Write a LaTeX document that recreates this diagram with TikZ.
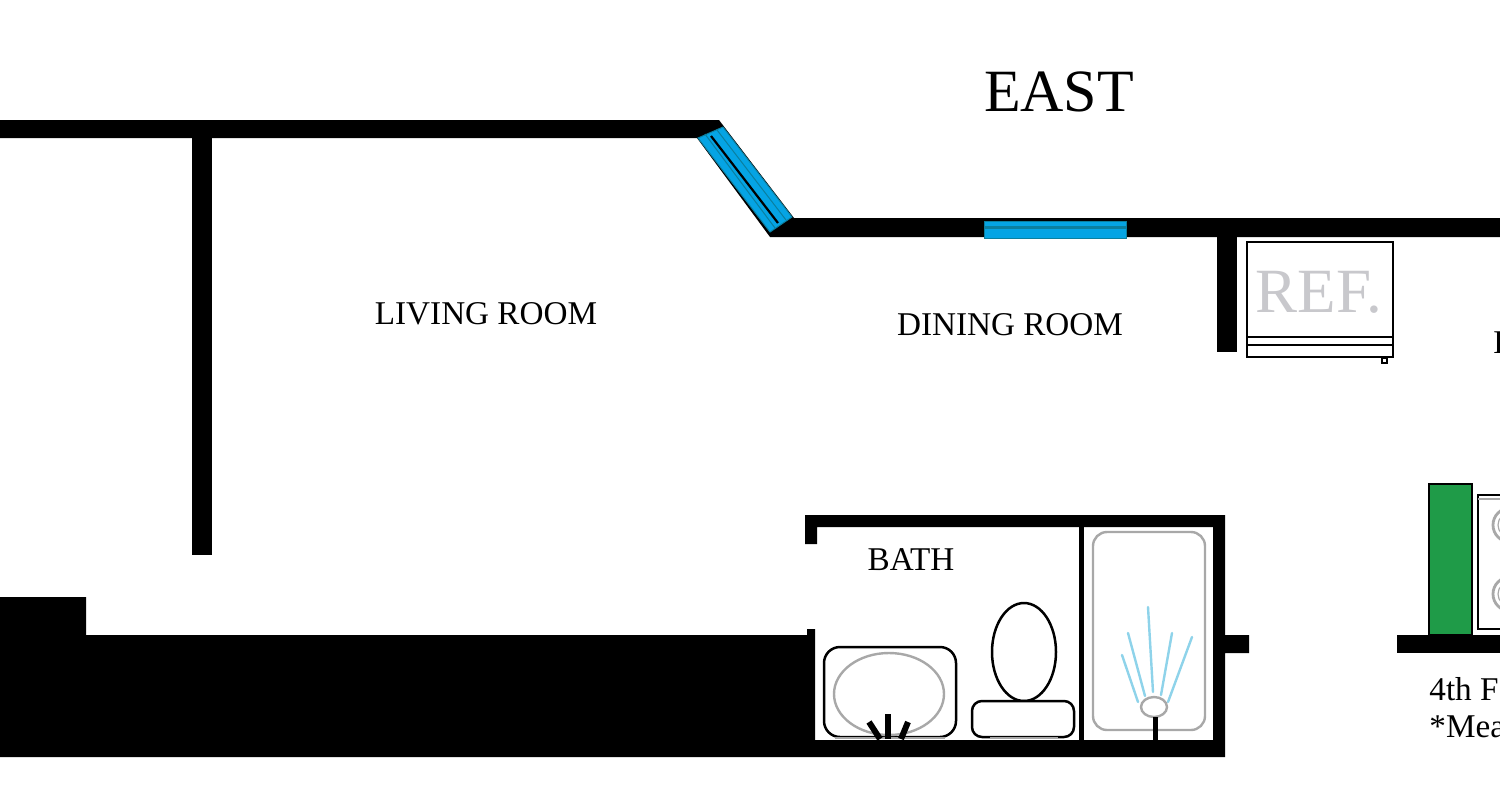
\documentclass[tikz,border=0pt]{standalone}
\usepackage{fontspec}
\setmainfont{Liberation Serif}
\definecolor{winblue}{HTML}{05A4E4}
\definecolor{winteal}{HTML}{0B7F9F}
\definecolor{spray}{HTML}{8ED3EA}
\definecolor{fixgray}{HTML}{A8A8A8}
\definecolor{reftext}{HTML}{C8C8CC}
\definecolor{cabgreen}{HTML}{1F9B48}
\tikzset{
  wall/.style={fill=black,draw=none},
  fixture/.style={draw=black,line width=1.25pt,fill=white},
  grayfix/.style={draw=fixgray,line width=1.2pt},
  spraylin/.style={draw=spray,line width=1.2pt,line cap=round},
  faucet/.style={draw=black,line width=3pt},
  label/.style={inner sep=0pt,font=\fontsize{16.6}{20}\selectfont}
}
\begin{document}
\begin{tikzpicture}[x=0.5pt,y=-0.5pt]
\useasboundingbox (0,0) rectangle (1500,800);
\clip (0,0) rectangle (1500,800);
\fill[white] (0,0) rectangle (1500,800);
% exterior east wall
\fill[wall] (0,120) -- (719,120) -- (794,218) -- (1500,218) -- (1500,237) -- (770,237) -- (697,138) -- (0,138) -- cycle;
% partitions
\fill[wall] (192,120) rectangle (212,555);
\fill[wall] (1217,230) rectangle (1237,352);
% south mass
\fill[wall] (0,597) -- (86,597) -- (86,635) -- (807,635) -- (807,629) -- (815,629) -- (815,740) -- (1213,740) -- (1213,527) -- (817,527) -- (817,544) -- (805,544) -- (805,515) -- (1225,515) -- (1225,635) -- (1249,635) -- (1249,653) -- (1225,653) -- (1225,757) -- (0,757) -- cycle;
\fill[wall] (1079,527) rectangle (1084,740);
\fill[wall] (1397,635) rectangle (1500,653);
% angled window
\fill[winblue,draw=winteal,line width=0.5pt] (698,138) -- (723,127) -- (792,217) -- (770,232) -- cycle;
\draw[winteal,line width=0.5pt] (705,134) -- (775,228);
\draw[winteal,line width=0.5pt] (717,130) -- (786,220);
\draw[black,line width=1.1pt] (711,136) -- (778,223);
% straight window
\fill[winblue] (984,221) rectangle (1126,238);
\draw[winteal,line width=1.2pt] (984,227.5) -- (1126,227.5);
\draw[winteal,line width=0.4pt] (984,221) rectangle (1126,238);
% refrigerator
\draw[fixture] (1247,242) rectangle (1393,357);
\draw[black,line width=1.25pt] (1247,337) -- (1393,337) (1247,345) -- (1393,345);
\draw[fixture,line width=1pt] (1381.5,357.5) rectangle (1387,362.5);
\node[inner sep=0pt,text=reftext,font=\fontsize{31.5}{34}\selectfont] (ref) at (1319,292) {REF.};
% bath fixtures
\draw[fixture] (824,647) [rounded corners=8pt] rectangle (956,737);
\draw[grayfix,fill=white] (889,694) ellipse [x radius=55,y radius=41];
\draw[fixgray,line width=1pt] (835,738) -- (945,738);
\draw[faucet] (888,714) -- (888,739);
\draw[faucet] (869,722) -- (880,739);
\draw[faucet] (908,722) -- (901,739);
\draw[fixture] (1024,652) ellipse [x radius=32,y radius=49];
\draw[fixture] (972,701) [rounded corners=5pt] rectangle (1074,737);
\draw[fixgray,line width=1pt] (990,738) -- (1058,738);
% shower
\draw[grayfix] (1093,532) [rounded corners=7pt] rectangle (1205,730);
\draw[spraylin] (1138,702) -- (1122,655);
\draw[spraylin] (1145,696) -- (1128,633);
\draw[spraylin] (1153,692) -- (1148,607);
\draw[spraylin] (1161,695) -- (1172,633);
\draw[spraylin] (1168,702) -- (1192,637);
\draw[draw=fixgray,fill=white,line width=1.2pt] (1154,707) ellipse [x radius=13,y radius=10];
\fill[wall] (1153,717) rectangle (1157.5,740);
% cabinet and stove
\draw[fill=cabgreen,draw=black,line width=1.25pt] (1429,484) rectangle (1472,635);
\draw[fixture] (1478,495) rectangle (1510,629);
\draw[fixgray,line width=0.6pt] (1478,499) -- (1510,499);
\draw[fixgray,line width=1.4pt,fill=white] (1510,525) circle (17);
\draw[fixgray,line width=1.4pt,fill=white] (1510,594) circle (17);
\draw[fixgray,line width=0.6pt] (1510,525) circle (12);
\draw[fixgray,line width=0.6pt] (1510,594) circle (12);
% labels
\node[inner sep=0pt,font=\fontsize{30}{34}\selectfont] (east) at (1059,92) {EAST};
\node[label] (living) at (486,314) {LIVING ROOM};
\node[label] (dining) at (1010,325) {DINING ROOM};
\node[label] (bath) at (911,560) {BATH};
\node[label,anchor=west] (kitchen) at (1493,343) {K};
\node[label,anchor=west] (floor) at (1429,689) {4th F};
\node[label,anchor=west] (note) at (1429,727) {*Mea};
\end{tikzpicture}
\end{document}
